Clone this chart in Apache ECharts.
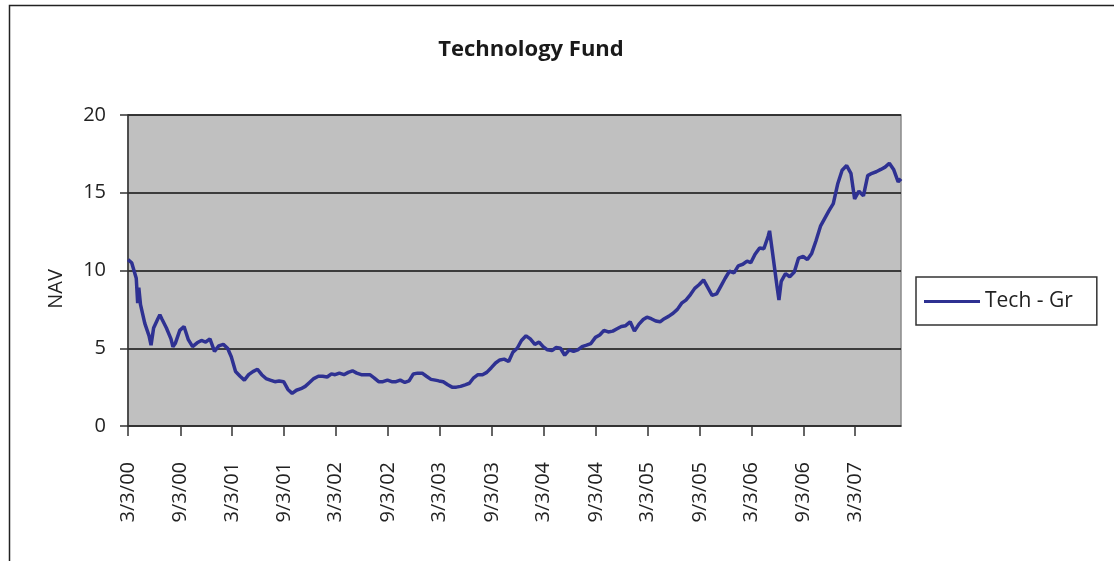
<!DOCTYPE html>
<html>
<head>
<meta charset="utf-8">
<title>Technology Fund</title>
<script src="https://cdn.jsdelivr.net/npm/echarts@6/dist/echarts.min.js"></script>
<style>
  html, body { margin: 0; padding: 0; background: #fff; }
  #chart { width: 1114px; height: 561px; }
</style>
</head>
<body>
<div id="chart"></div>
<script>
// data (NAV, roughly twice a month)
var dates = [
  '2000-03-03','2000-03-16','2000-04-01','2000-04-06','2000-04-10','2000-04-16','2000-05-01','2000-05-16','2000-05-23',
  '2000-06-01','2000-06-16','2000-06-23','2000-07-01','2000-07-16','2000-08-01','2000-08-08','2000-08-16',
  '2000-09-01','2000-09-16','2000-10-01','2000-10-16','2000-11-01','2000-11-16','2000-12-01','2000-12-16',
  '2001-01-01','2001-01-16','2001-02-01','2001-02-16','2001-03-01','2001-03-16','2001-04-01','2001-04-16',
  '2001-05-01','2001-05-16','2001-06-01','2001-06-16','2001-07-01','2001-07-16','2001-08-01','2001-08-16',
  '2001-09-01','2001-09-16','2001-10-01','2001-10-16','2001-11-01','2001-11-16','2001-12-01','2001-12-16',
  '2002-01-01','2002-01-16','2002-02-01','2002-02-16','2002-03-01','2002-03-16','2002-04-01','2002-04-16',
  '2002-05-01','2002-05-16','2002-06-01','2002-06-16','2002-07-01','2002-07-16','2002-08-01','2002-08-16',
  '2002-09-01','2002-09-16','2002-10-01','2002-10-16','2002-11-01','2002-11-16','2002-12-01','2002-12-16',
  '2003-01-01','2003-01-16','2003-02-01','2003-02-16','2003-03-01','2003-03-16','2003-04-01','2003-04-16',
  '2003-05-01','2003-05-16','2003-06-01','2003-06-16','2003-07-01','2003-07-16','2003-08-01','2003-08-16',
  '2003-09-01','2003-09-16','2003-10-01','2003-10-16','2003-11-01','2003-11-16','2003-12-01','2003-12-16',
  '2004-01-01','2004-01-16','2004-02-01','2004-02-16','2004-03-01','2004-03-16','2004-04-01','2004-04-16',
  '2004-05-01','2004-05-16','2004-06-01','2004-06-16','2004-07-01','2004-07-16','2004-08-01','2004-08-16',
  '2004-09-01','2004-09-16','2004-10-01','2004-10-16','2004-11-01','2004-11-16','2004-12-01','2004-12-16',
  '2005-01-01','2005-01-16','2005-02-01','2005-02-16','2005-03-01','2005-03-16','2005-04-01','2005-04-16',
  '2005-05-01','2005-05-16','2005-06-01','2005-06-16','2005-07-01','2005-07-16','2005-08-01','2005-08-16',
  '2005-09-01','2005-09-16','2005-10-01','2005-10-16','2005-11-01','2005-11-16','2005-12-01','2005-12-16',
  '2006-01-01','2006-01-16','2006-02-01','2006-02-16','2006-03-01','2006-03-16','2006-04-01','2006-04-16',
  '2006-05-01','2006-05-06','2006-05-16','2006-06-01','2006-06-08','2006-06-16','2006-07-01','2006-07-16',
  '2006-08-01','2006-08-16','2006-09-01','2006-09-16','2006-10-01','2006-10-16','2006-11-01','2006-11-16',
  '2006-12-01','2006-12-16','2007-01-01','2007-01-16','2007-02-01','2007-02-16','2007-03-01','2007-03-16',
  '2007-04-01','2007-04-16','2007-05-01','2007-05-16','2007-06-01','2007-06-16','2007-07-01','2007-07-16',
  '2007-08-01','2007-08-11'
];
var navs = [
  10.7,10.5,9.5,7.9,8.9,7.8,6.6,5.8,5.2,
  6.3,6.9,7.15,6.85,6.3,5.6,5.1,5.3,
  6.15,6.4,5.55,5.1,5.35,5.5,5.4,5.6,
  4.8,5.15,5.25,5.0,4.45,3.5,3.2,2.95,
  3.3,3.5,3.65,3.3,3.05,2.95,2.85,2.9,
  2.85,2.35,2.1,2.3,2.4,2.55,2.8,3.05,
  3.2,3.2,3.15,3.35,3.3,3.4,3.3,3.45,
  3.55,3.4,3.3,3.3,3.3,3.1,2.85,2.85,
  2.95,2.85,2.85,2.95,2.8,2.9,3.35,3.4,
  3.4,3.2,3.0,2.95,2.9,2.85,2.65,2.5,
  2.5,2.55,2.65,2.75,3.1,3.3,3.3,3.45,
  3.75,4.05,4.25,4.3,4.15,4.75,5.0,5.5,
  5.8,5.6,5.25,5.4,5.1,4.9,4.85,5.05,
  5.0,4.55,4.9,4.8,4.9,5.1,5.2,5.3,
  5.7,5.85,6.15,6.05,6.1,6.25,6.4,6.45,
  6.7,6.1,6.55,6.85,7.0,6.9,6.75,6.7,
  6.9,7.05,7.25,7.5,7.9,8.1,8.45,8.85,
  9.1,9.4,8.9,8.4,8.5,9.0,9.5,9.95,
  9.85,10.3,10.4,10.6,10.5,11.05,11.45,11.4,
  12.2,12.55,11.2,9.0,8.1,9.3,9.8,9.6,
  9.9,10.8,10.9,10.7,11.1,11.9,12.85,13.35,
  13.85,14.3,15.6,16.45,16.75,16.25,14.6,15.1,
  14.8,16.1,16.25,16.35,16.5,16.65,16.9,16.5,
  15.7,15.9
];
var tickDates = [
  '2000-03-03','2000-09-03','2001-03-03','2001-09-03','2002-03-03','2002-09-03','2003-03-03','2003-09-03',
  '2004-03-03','2004-09-03','2005-03-03','2005-09-03','2006-03-03','2006-09-03','2007-03-03'
];
var yTicks = [0, 5, 10, 15, 20];

function toTime(s) {
  var p = s.split('-');
  return new Date(+p[0], +p[1] - 1, +p[2]).getTime();
}

var seriesData = dates.map(function (d, i) { return [toTime(d), navs[i]]; });
var tickValues = tickDates.map(toTime);

var fontFam = '"Open Sans", "DejaVu Sans", sans-serif';

var myChart = echarts.init(document.getElementById('chart'), null, { renderer: 'canvas' });
var option = {
  animation: false,
  backgroundColor: '#ffffff',
  title: {
    text: 'Technology Fund',
    left: 526,
    top: 34,
    textAlign: 'center',
    textStyle: { fontFamily: fontFam, fontSize: 22, fontWeight: 'bold', color: '#1a1a1a' }
  },
  graphic: [
    { // outer chart frame
      type: 'rect', left: 7, top: 3, z: -1,
      shape: { width: 1200, height: 700 },
      style: { fill: 'none', stroke: '#222', lineWidth: 1.5 }
    },
    {
      type: 'text', x: 56, y: 289, rotation: Math.PI / 2,
      style: { text: 'NAV', fontFamily: fontFam, fontSize: 20, fill: '#222', align: 'center', verticalAlign: 'middle' }
    }
  ],
  legend: {
    data: ['Tech - Gr'],
    left: 916,
    top: 277,
    orient: 'vertical',
    icon: 'rect',
    itemWidth: 56,
    itemHeight: 3,
    padding: [14, 24, 13, 8],
    borderColor: '#333',
    borderWidth: 1.5,
    backgroundColor: '#fff',
    textStyle: { fontFamily: fontFam, fontSize: 21, color: '#222' }
  },
  grid: {
    left: 128,
    top: 115,
    width: 773,
    height: 311,
    show: true,
    backgroundColor: '#c0c0c0',
    borderColor: '#8a8a8a',
    borderWidth: 1.5
  },
  xAxis: {
    type: 'value',
    min: toTime('2000-03-03'),
    max: toTime('2007-08-11'),
    axisLine: { show: true, lineStyle: { color: '#333', width: 1.5 } },
    axisTick: { show: true, length: 10, customValues: tickValues, lineStyle: { color: '#333', width: 1.5 } },
    axisLabel: {
      customValues: tickValues,
      rotate: 90,
      margin: 36,
      fontFamily: fontFam,
      fontSize: 20,
      color: '#222',
      formatter: function (v) {
        var d = new Date(v);
        return (d.getMonth() + 1) + '/' + d.getDate() + '/' + String(d.getFullYear()).slice(2);
      }
    },
    splitLine: { show: false }
  },
  yAxis: {
    type: 'value',
    min: yTicks[0],
    max: yTicks[yTicks.length - 1],
    interval: 5,
    axisLine: { show: true, lineStyle: { color: '#333', width: 1.5 } },
    axisTick: { show: true, length: 8, lineStyle: { color: '#333', width: 1.5 } },
    axisLabel: { margin: 22, fontFamily: fontFam, fontSize: 20, color: '#222' },
    splitLine: { show: true, lineStyle: { color: '#111', width: 1.5 } }
  },
  series: [
    {
      name: 'Tech - Gr',
      type: 'line',
      showSymbol: false,
      symbol: 'none',
      color: '#2e3192',
      lineStyle: { color: '#2e3192', width: 3.5 },
      data: seriesData
    }
  ]
};
myChart.setOption(option);
</script>
</body>
</html>
